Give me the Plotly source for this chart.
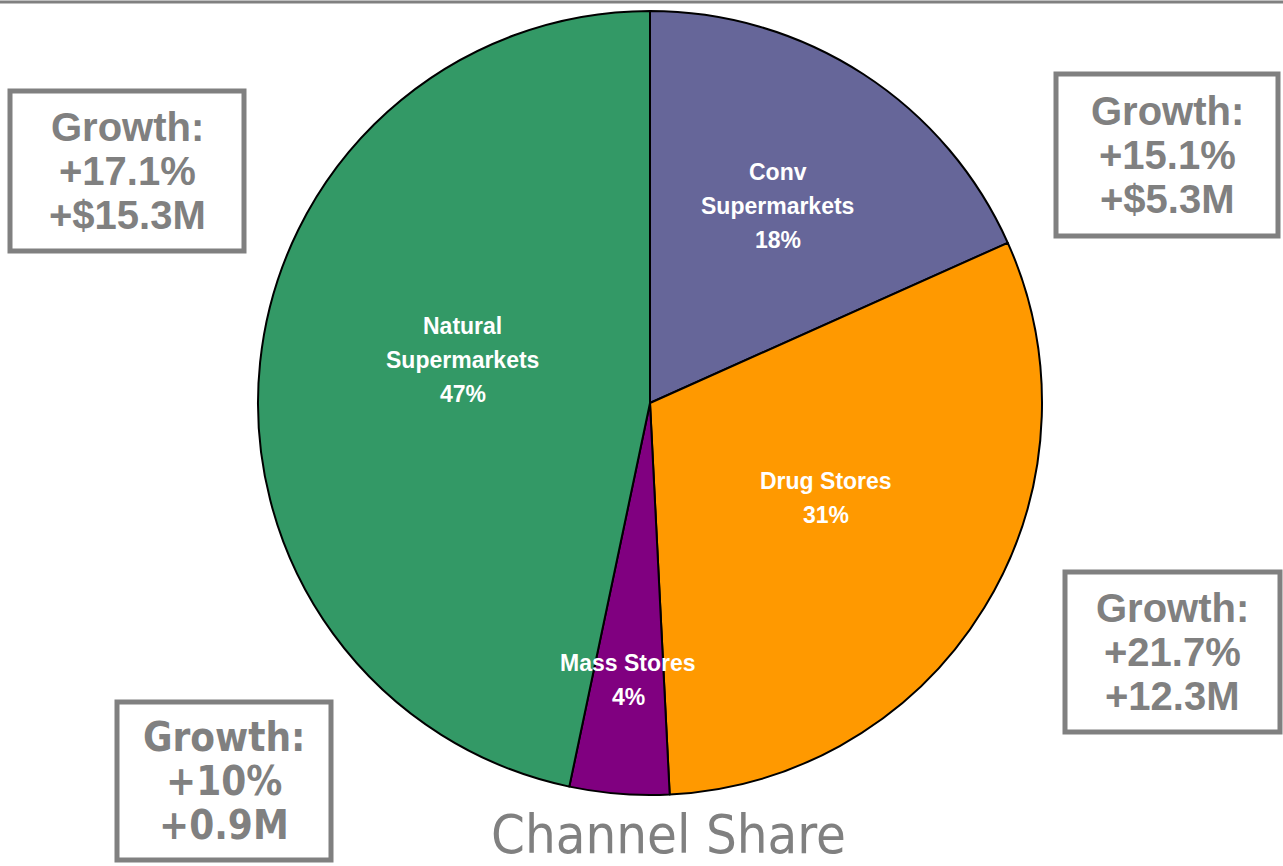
import math
import plotly.graph_objects as go

# ---- data ----
labels = ["Conv Supermarkets", "Drug Stores", "Mass Stores", "Natural Supermarkets"]
label_lines = [["Conv", "Supermarkets"], ["Drug Stores"], ["Mass Stores"], ["Natural", "Supermarkets"]]
shares = [18.3, 30.9, 4.1, 46.7]
colors = ["#666699", "#FF9900", "#800080", "#339966"]
growth_boxes = [
    ["Growth:", "+17.1%", "+$15.3M"],
    ["Growth:", "+15.1%", "+$5.3M"],
    ["Growth:", "+21.7%", "+12.3M"],
    ["Growth:", "+10%", "+0.9M"],
]
title_text = "Channel Share"

# ---- layout constants ----
W, H = 1283, 866
CX, CY, R = 650, 403, 392
# label placement style: radial fraction and angle nudge (deg)
lab_rfrac = [0.60, 0.51, 0.71, 0.49]
lab_nudge = [0, -3, 0, 7]
# boxes: (x0, y0, x1, y1) in px, font family, size, bold
box_geom = [(10, 91, 244, 251), (1056, 74, 1278, 236), (1065, 572, 1280, 732), (117, 702, 331, 860)]
COND = "DejaVu Sans Condensed, Roboto, sans-serif"
box_fonts = [("Liberation Sans, Arial", 40, True), ("Liberation Sans, Arial", 40, True),
             ("Liberation Sans, Arial", 40, True), (COND, 40, True)]
GRAY = "#808080"

def px(x):
    return x / W

def py(y):
    return 1 - y / H

fig = go.Figure()
fig.add_trace(go.Pie(
    labels=labels, values=shares, sort=False, direction="clockwise", rotation=0,
    marker=dict(colors=colors, line=dict(color="black", width=2)),
    textinfo="none", hoverinfo="label+percent", showlegend=False,
    domain=dict(x=[px(CX - R), px(CX + R)], y=[py(CY + R), py(CY - R)]),
))

annotations = []
total = sum(shares)
cum = 0
for i, v in enumerate(shares):
    mid = (cum + v / 2) / total * 360 + lab_nudge[i]
    cum += v
    r = R * lab_rfrac[i]
    x = CX + r * math.sin(math.radians(mid))
    y = CY - r * math.cos(math.radians(mid))
    lines = label_lines[i] + [f"{round(v / total * 100):d}%"]
    n = len(lines)
    for j, t in enumerate(lines):
        yy = y + (j - (n - 1) / 2) * 34
        annotations.append(dict(
            x=px(x), y=py(yy), xref="paper", yref="paper", text=f"<b>{t}</b>",
            showarrow=False, xanchor="center", yanchor="middle",
            font=dict(family="Liberation Sans, Arial", size=23, color="white"),
        ))

shapes = [dict(type="line", xref="paper", yref="paper", x0=0, x1=1, y0=py(2), y1=py(2),
               line=dict(color=GRAY, width=3))]
for (x0, y0, x1, y1), lines, (fam, sz, bold) in zip(box_geom, growth_boxes, box_fonts):
    shapes.append(dict(type="rect", xref="paper", yref="paper",
                       x0=px(x0), x1=px(x1), y0=py(y0), y1=py(y1),
                       line=dict(color=GRAY, width=5), fillcolor="white"))
    cxb = (x0 + x1) / 2
    cyb = (y0 + y1) / 2
    n = len(lines)
    for j, t in enumerate(lines):
        yy = cyb + (j - (n - 1) / 2) * 44
        annotations.append(dict(
            x=px(cxb), y=py(yy), xref="paper", yref="paper",
            text=f"<b>{t}</b>" if bold else t,
            showarrow=False, xanchor="center", yanchor="middle",
            font=dict(family=fam, size=sz, color=GRAY),
        ))

annotations.append(dict(
    x=px(668), y=py(834), xref="paper", yref="paper", text=title_text,
    showarrow=False, xanchor="center", yanchor="middle",
    font=dict(family=COND, size=54, color=GRAY),
))

fig.update_layout(
    width=W, height=H, autosize=False,
    margin=dict(l=0, r=0, t=0, b=0),
    paper_bgcolor="white", plot_bgcolor="white",
    shapes=shapes, annotations=annotations,
)
fig.write_html("out.html", config={"displayModeBar": False},
               post_script="document.body.style.margin='0';")
